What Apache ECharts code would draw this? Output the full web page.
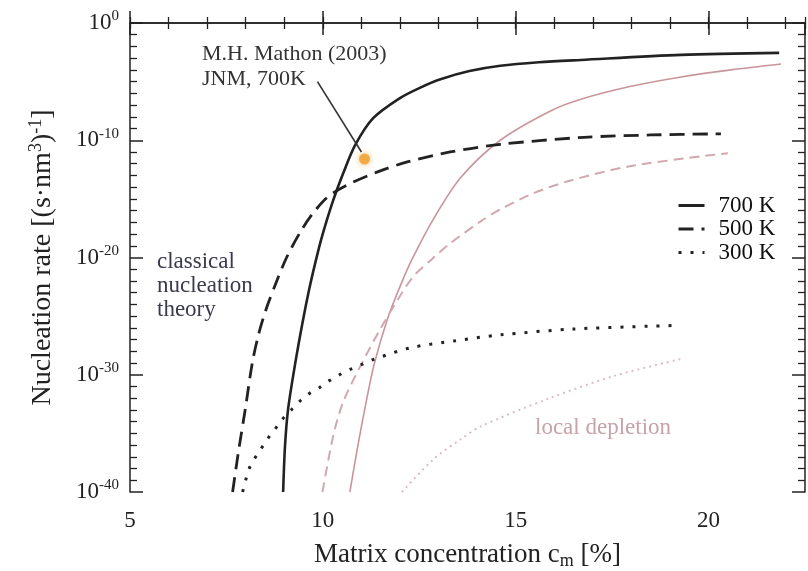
<!DOCTYPE html>
<html>
<head>
<meta charset="utf-8">
<script src="https://cdn.jsdelivr.net/npm/echarts@6/dist/echarts.min.js"></script>
<style>
  html, body { margin: 0; padding: 0; background: #fff; }
  #chart { width: 808px; height: 571px; }
</style>
</head>
<body>
<div id="chart"></div>
<script>
// Nucleation rate vs. matrix concentration; rates are stored as log10 values.

// Classical nucleation theory
const cnt700Conc = [8.97, 9.02, 9.1, 9.29, 9.47, 9.64, 9.8, 9.97, 10.25, 10.53, 10.84, 11.31, 12.0, 12.5, 13.05, 13.8, 14.6, 15.6, 16.69, 19.29, 21.83];
const cnt700Rate = [-40, -36.0, -32.9, -28.9, -25.6, -22.8, -20.5, -18.3, -15.3, -12.8, -10.4, -8.1, -6.4, -5.55, -4.8, -4.1, -3.65, -3.35, -3.15, -2.72, -2.55];

const cnt500Conc = [7.66, 7.81, 7.99, 8.17, 8.33, 8.52, 8.77, 9.06, 9.42, 9.75, 10.14, 10.64, 11.42, 12.19, 13.3, 14.6, 16.77, 18.5, 20.32];
const cnt500Rate = [-40, -36.6, -32.9, -29.0, -26.6, -24.5, -22.3, -20.0, -17.8, -16.2, -14.8, -13.8, -12.7, -11.85, -11.0, -10.35, -9.75, -9.55, -9.45];

const cnt300Conc = [7.92, 7.99, 8.09, 8.22, 8.40, 8.58, 8.77, 8.95, 9.18, 9.39, 9.65, 9.91, 10.17, 10.43, 10.74, 11.03, 11.31, 12.27, 13.44, 14.6, 16.5, 19.1];
const cnt300Rate = [-40, -39.1, -38.0, -37.2, -36.3, -35.4, -34.6, -33.8, -33.0, -32.3, -31.6, -31.1, -30.5, -30.0, -29.5, -29.1, -28.7, -27.7, -27.1, -26.6, -26.1, -25.8];

// Local depletion
const dep700Conc = [10.7, 10.9, 11.1, 11.33, 11.68, 12.01, 12.32, 12.87, 13.57, 14.6, 15.9, 16.69, 17.99, 19.29, 20.58, 21.88];
const dep700Rate = [-40, -36.2, -32.7, -29.1, -25.2, -22.4, -20.1, -16.7, -13.2, -10.0, -7.5, -6.5, -5.4, -4.6, -4.0, -3.5];

const dep500Conc = [9.99, 10.27, 10.53, 11.03, 11.49, 11.94, 12.35, 12.84, 13.3, 14.1, 14.6, 15.4, 16.35, 17.99, 20.5];
const dep500Rate = [-40, -35.2, -32.3, -28.9, -26.1, -23.6, -21.6, -20.1, -18.8, -16.9, -15.9, -14.6, -13.5, -12.2, -11.1];

const dep300Conc = [12.05, 12.87, 13.57, 14.1, 15.8, 17.55, 19.36];
const dep300Rate = [-40, -37.2, -35.5, -34.4, -32.1, -30.1, -28.6];

// Measurement (M.H. Mathon 2003, JNM, 700 K)
const mathonConc = [11.08];
const mathonRate = [-11.6];

const yTicks = [0, -10, -20, -30, -40];
const xTicks = [5, 10, 15, 20];

const SERIF = '"Liberation Serif", "DejaVu Serif", serif';
const INK = '#222';
const zip = (xs, ys) => xs.map((x, i) => [x, ys[i]]);

const chart = echarts.init(document.getElementById('chart'), null, { renderer: 'canvas' });

const axisLine = { show: true, lineStyle: { color: INK, width: 1.5 } };
const majorTick = (len) => ({ show: true, inside: true, length: len, lineStyle: { color: INK, width: 1.5 } });
const minorTickX = { show: true, inside: true, length: 6, lineStyle: { color: INK, width: 1.3 } };

const option = {
  backgroundColor: '#ffffff',
  animation: false,
  grid: { left: 130, right: 3, top: 23, bottom: 79, containLabel: false, outerBoundsMode: 'none' },
  xAxis: [
    {
      type: 'value', min: 5, max: 22.5, interval: 5, position: 'bottom',
      axisLine: axisLine,
      axisTick: majorTick(12),
      axisLabel: {
        color: INK, fontFamily: SERIF, fontSize: 23, margin: 17,
        showMaxLabel: false,
        formatter: v => (xTicks.indexOf(v) >= 0 ? String(v) : '')
      },
      splitLine: { show: false },
      name: '{t|Matrix concentration c}{sub|m}{t| [%]}',
      nameLocation: 'middle', nameGap: 47,
      nameTextStyle: {
        color: INK, fontFamily: SERIF,
        rich: {
          t: { fontSize: 27, fontFamily: SERIF, color: INK },
          sub: { fontSize: 18, fontFamily: SERIF, color: INK, padding: [13, 0, 0, 0] }
        }
      }
    },
    {
      type: 'value', min: 5, max: 22.5, interval: 1, position: 'bottom',
      axisLine: { show: false }, axisTick: minorTickX,
      axisLabel: { show: false }, splitLine: { show: false }
    },
    {
      type: 'value', min: 5, max: 22.5, interval: 5, position: 'top',
      axisLine: axisLine, axisTick: majorTick(12),
      axisLabel: { show: false }, splitLine: { show: false }
    },
    {
      type: 'value', min: 5, max: 22.5, interval: 1, position: 'top',
      axisLine: { show: false }, axisTick: minorTickX,
      axisLabel: { show: false }, splitLine: { show: false }
    }
  ],
  yAxis: [
    {
      type: 'value', min: -40, max: 0, interval: 10, position: 'left',
      axisLine: axisLine,
      axisTick: majorTick(13),
      minorTick: { show: true, splitNumber: 10, length: 7, lineStyle: { color: INK, width: 1.3 } },
      axisLabel: {
        margin: 11, fontFamily: SERIF,
        formatter: v => (yTicks.indexOf(v) >= 0 ? '{b|10}{s|' + v + '}' : ''),
        rich: {
          b: { fontSize: 23, fontFamily: SERIF, color: INK },
          s: { fontSize: 15, fontFamily: SERIF, color: INK, padding: [0, 0, 13, 0] }
        }
      },
      splitLine: { show: false },
      name: '{t|Nucleation rate [(s·nm}{sup|3}{t|)}{sup|-1}{t|]}',
      nameLocation: 'middle', nameGap: 72,
      nameTextStyle: {
        color: INK, fontFamily: SERIF,
        rich: {
          t: { fontSize: 28, fontFamily: SERIF, color: INK },
          sup: { fontSize: 18, fontFamily: SERIF, color: INK, padding: [0, 0, 13, 0] }
        }
      }
    },
    {
      type: 'value', min: -40, max: 0, interval: 10, position: 'right',
      axisLine: axisLine,
      axisTick: majorTick(13),
      minorTick: { show: true, splitNumber: 10, length: 7, lineStyle: { color: INK, width: 1.3 } },
      axisLabel: { show: false }, splitLine: { show: false }
    }
  ],
  legend: {
    data: ['700 K', '500 K', '300 K'],
    orient: 'vertical',
    left: 672, top: 189,
    itemWidth: 26, itemHeight: 14, itemGap: 0.5,
    itemStyle: { color: 'rgba(0,0,0,0)', borderColor: 'rgba(0,0,0,0)', borderWidth: 0 },
    lineStyle: { width: 3 },
    textStyle: { fontFamily: SERIF, fontSize: 23, lineHeight: 22, color: '#111', padding: [0, 0, 0, 9] }
  },
  series: [
    {
      name: '700 K', type: 'line', data: zip(cnt700Conc, cnt700Rate),
      symbol: 'none', smooth: 0.3,
      lineStyle: { color: INK, width: 2.6, type: 'solid' }, itemStyle: { color: INK }, z: 5
    },
    {
      name: '500 K', type: 'line', data: zip(cnt500Conc, cnt500Rate),
      symbol: 'none', smooth: 0.3,
      lineStyle: { color: INK, width: 2.8, type: [15, 8] }, itemStyle: { color: INK }, z: 5
    },
    {
      name: '300 K', type: 'line', data: zip(cnt300Conc, cnt300Rate),
      symbol: 'none', smooth: 0.3,
      lineStyle: { color: INK, width: 3, type: [3, 9] }, itemStyle: { color: INK }, z: 5
    },
    {
      name: 'depletion 700 K', type: 'line', data: zip(dep700Conc, dep700Rate),
      symbol: 'none', smooth: 0.3,
      lineStyle: { color: '#c9959c', width: 1.6, type: 'solid' }, z: 4
    },
    {
      name: 'depletion 500 K', type: 'line', data: zip(dep500Conc, dep500Rate),
      symbol: 'none', smooth: 0.3,
      lineStyle: { color: '#d2a8ae', width: 2, type: [10, 6] }, z: 4
    },
    {
      name: 'depletion 300 K', type: 'line', data: zip(dep300Conc, dep300Rate),
      symbol: 'none', smooth: 0.3,
      lineStyle: { color: '#dcbcc2', width: 2, type: [2, 4] }, z: 4
    },
    {
      name: 'Mathon 2003', type: 'scatter', data: zip(mathonConc, mathonRate),
      symbol: 'circle', symbolSize: 11,
      itemStyle: { color: '#ef9f2c', shadowBlur: 6, shadowColor: 'rgba(240,160,40,0.8)' }, z: 6
    }
  ]
};

chart.setOption(option);

// Annotation arrow to the measured point, placed in data coordinates.
const arrowFrom = chart.convertToPixel({ gridIndex: 0 }, [9.86, -5.0]);
const arrowTo = chart.convertToPixel({ gridIndex: 0 }, [11.0, -11.0]);

chart.setOption({
  graphic: [
    {
      type: 'line', z: 10,
      shape: { x1: arrowFrom[0], y1: arrowFrom[1], x2: arrowTo[0], y2: arrowTo[1] },
      style: { stroke: '#333', lineWidth: 1.6 }
    },
    {
      type: 'text', left: 202, top: 43, z: 10,
      style: { text: 'M.H. Mathon (2003)', font: '22px ' + SERIF, fill: '#333' }
    },
    {
      type: 'text', left: 202, top: 68, z: 10,
      style: { text: 'JNM, 700K', font: '22px ' + SERIF, fill: '#333' }
    },
    {
      type: 'text', left: 157, top: 250, z: 10,
      style: { text: 'classical\nnucleation\ntheory', font: '23px ' + SERIF, fill: '#3a3a4c', lineHeight: 24 }
    },
    {
      type: 'text', left: 535, top: 416, z: 10,
      style: { text: 'local depletion', font: '23px ' + SERIF, fill: '#c6a3a9' }
    }
  ]
});
</script>
</body>
</html>
